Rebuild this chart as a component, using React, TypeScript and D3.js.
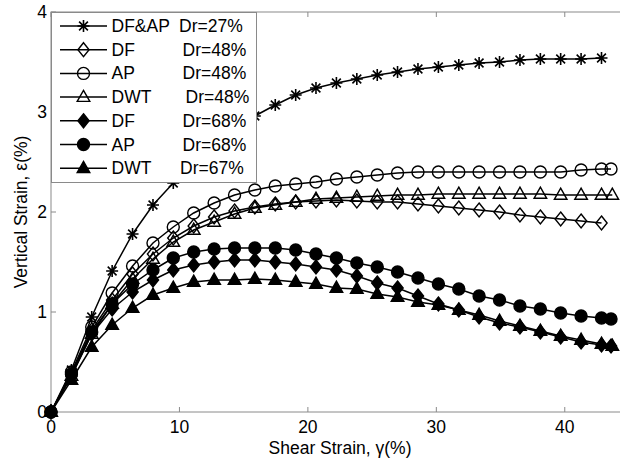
import React, { useEffect, useRef } from 'react';
import * as d3 from 'd3';

// shear strain (%) at each recorded point
const gamma = [0, 1.59, 3.17, 4.76, 6.35, 7.94, 9.52, 11.11, 12.7, 14.29, 15.87, 17.46, 19.05, 20.63,
  22.22, 23.81, 25.4, 26.98, 28.57, 30.16, 31.75, 33.33, 34.92, 36.51, 38.1, 39.68, 41.27, 42.86];

// vertical strain (%) per test
const dfap27 = [0, 0.42, 0.95, 1.41, 1.78, 2.07, 2.29, 2.48, 2.65, 2.81, 2.96, 3.07, 3.17, 3.24, 3.29, 3.33,
  3.37, 3.40, 3.43, 3.45, 3.47, 3.49, 3.50, 3.52, 3.53, 3.53, 3.53, 3.54];
const df48 = [0, 0.38, 0.82, 1.12, 1.38, 1.58, 1.74, 1.86, 1.95, 2.01, 2.05, 2.08, 2.10, 2.11, 2.12, 2.11,
  2.10, 2.10, 2.08, 2.06, 2.04, 2.02, 2.00, 1.97, 1.95, 1.93, 1.91, 1.89];
const ap48 = [0, 0.40, 0.85, 1.19, 1.46, 1.69, 1.85, 1.99, 2.09, 2.17, 2.22, 2.26, 2.28, 2.30, 2.33, 2.35,
  2.37, 2.39, 2.40, 2.40, 2.40, 2.40, 2.40, 2.40, 2.40, 2.40, 2.42, 2.43];
const dwt48 = [0, 0.36, 0.78, 1.08, 1.33, 1.53, 1.70, 1.82, 1.90, 1.98, 2.04, 2.07, 2.10, 2.13, 2.14, 2.15,
  2.16, 2.17, 2.17, 2.18, 2.18, 2.18, 2.18, 2.18, 2.18, 2.17, 2.17, 2.17];
const df68 = [0, 0.36, 0.78, 1.03, 1.20, 1.32, 1.42, 1.47, 1.50, 1.52, 1.52, 1.50, 1.48, 1.45, 1.42, 1.36,
  1.29, 1.24, 1.16, 1.08, 1.02, 0.95, 0.89, 0.85, 0.80, 0.75, 0.70, 0.67];
const ap68 = [0, 0.38, 0.80, 1.08, 1.28, 1.42, 1.54, 1.60, 1.63, 1.64, 1.64, 1.64, 1.62, 1.58, 1.54, 1.49,
  1.45, 1.40, 1.34, 1.28, 1.23, 1.16, 1.12, 1.06, 1.03, 0.99, 0.96, 0.94];
const dwt67 = [0, 0.32, 0.65, 0.87, 1.04, 1.17, 1.24, 1.30, 1.32, 1.32, 1.33, 1.32, 1.30, 1.28, 1.24, 1.23,
  1.18, 1.15, 1.10, 1.07, 1.02, 0.97, 0.91, 0.86, 0.81, 0.76, 0.72, 0.68];

// final point of each test (end of shearing), [gamma, strain] or null
const endPoints = [null, null, [43.6, 2.43], [43.7, 2.17], [43.6, 0.66], [43.6, 0.93], [43.7, 0.66]];

const testNames = ['DF&AP', 'DF', 'AP', 'DWT', 'DF', 'AP', 'DWT'];
const densities = ['Dr=27%', 'Dr=48%', 'Dr=48%', 'Dr=48%', 'Dr=68%', 'Dr=68%', 'Dr=67%'];
const markers = ['star', 'diamond', 'circle', 'triangle', 'diamond', 'circle', 'triangle'];
const filled = [false, false, false, false, true, true, true];
const seriesValues = [dfap27, df48, ap48, dwt48, df68, ap68, dwt67];

const xTicks = [0, 10, 20, 30, 40];
const yTicks = [0, 1, 2, 3, 4];

const markerPath = {
  star: 'M-6,0H6M0,-6V6M-4.4,-4.4L4.4,4.4M-4.4,4.4L4.4,-4.4',
  diamond: 'M0,-7L5.6,0L0,7L-5.6,0Z',
  circle: d3.symbol(d3.symbolCircle, 113)(),
  triangle: 'M0,-6.8L6.3,4.3L-6.3,4.3Z',
};

export default function App() {
  const ref = useRef<SVGSVGElement>(null);

  useEffect(() => {
    document.body.style.margin = '0';
    const svg = d3.select(ref.current);
    svg.selectAll('*').remove();

    const font = 'Arial, "Liberation Sans", sans-serif';
    const fs = 17.5;
    const x = d3.scaleLinear().domain([0, 45]).range([51, 629]);
    const y = d3.scaleLinear().domain([0, 4]).range([412, 12]);
    const frame = '#8a8a8a';

    const plot = svg.append('g');

    // frame + inward ticks
    plot.append('rect')
      .attr('x', x(0)).attr('y', y(4))
      .attr('width', x(45) - x(0)).attr('height', y(0) - y(4))
      .attr('fill', 'white').attr('stroke', frame).attr('stroke-width', 1);
    xTicks.forEach((t) => {
      plot.append('line').attr('x1', x(t)).attr('x2', x(t)).attr('y1', y(0)).attr('y2', y(0) - 5)
        .attr('stroke', frame);
      plot.append('line').attr('x1', x(t)).attr('x2', x(t)).attr('y1', y(4)).attr('y2', y(4) + 5)
        .attr('stroke', frame);
      plot.append('text').attr('x', x(t)).attr('y', y(0) + 21)
        .attr('text-anchor', 'middle').attr('font-family', font).attr('font-size', fs)
        .text(t);
    });
    yTicks.forEach((t) => {
      plot.append('line').attr('x1', x(0)).attr('x2', x(0) + 5).attr('y1', y(t)).attr('y2', y(t))
        .attr('stroke', frame);
      plot.append('text').attr('x', x(0) - 4).attr('y', y(t) + 6)
        .attr('text-anchor', 'end').attr('font-family', font).attr('font-size', fs)
        .text(t);
    });

    // axis titles
    svg.append('text').attr('x', 340).attr('y', 454).attr('text-anchor', 'middle')
      .attr('font-family', font).attr('font-size', fs).text('Shear Strain, γ(%)');
    svg.append('text').attr('transform', `translate(27,212) rotate(-90)`).attr('text-anchor', 'middle')
      .attr('font-family', font).attr('font-size', fs).text('Vertical Strain, ε(%)');

    const line = d3.line<number[]>().x((d) => x(d[0])).y((d) => y(d[1]));

    const drawMarker = (g, kind, isFilled, cx, cy) => {
      g.append('path')
        .attr('d', markerPath[kind])
        .attr('transform', `translate(${cx},${cy})`)
        .attr('fill', kind === 'star' ? 'none' : isFilled ? 'black' : 'none')
        .attr('stroke', 'black')
        .attr('stroke-width', kind === 'star' ? 1.6 : 1.4);
    };

    seriesValues.forEach((vals, si) => {
      const pts = vals.map((v, i) => [gamma[i], v]);
      if (endPoints[si]) pts.push(endPoints[si]);
      const g = plot.append('g');
      g.append('path').attr('d', line(pts)).attr('fill', 'none')
        .attr('stroke', 'black').attr('stroke-width', 1.5);
      pts.forEach((p) => drawMarker(g, markers[si], filled[si], x(p[0]), y(p[1])));
    });

    // legend
    const lg = svg.append('g');
    lg.append('rect').attr('x', 51.5).attr('y', 12.5).attr('width', 205).attr('height', 170)
      .attr('fill', 'white').attr('stroke', frame);
    const drX = [179, 182.5, 182.5, 185.5, 182.5, 182.5, 180];
    testNames.forEach((name, i) => {
      const ry = 26 + i * 23.7;
      lg.append('line').attr('x1', 60).attr('x2', 107).attr('y1', ry).attr('y2', ry)
        .attr('stroke', 'black').attr('stroke-width', 1.5);
      drawMarker(lg, markers[i], filled[i], 83.5, ry);
      lg.append('text').attr('x', 111.5).attr('y', ry + 6)
        .attr('font-family', font).attr('font-size', fs).text(name);
      lg.append('text').attr('x', drX[i]).attr('y', ry + 6)
        .attr('font-family', font).attr('font-size', fs).text(densities[i]);
    });
  }, []);

  return <svg ref={ref} width={620} height={463} style={{ display: 'block' }} />;
}
